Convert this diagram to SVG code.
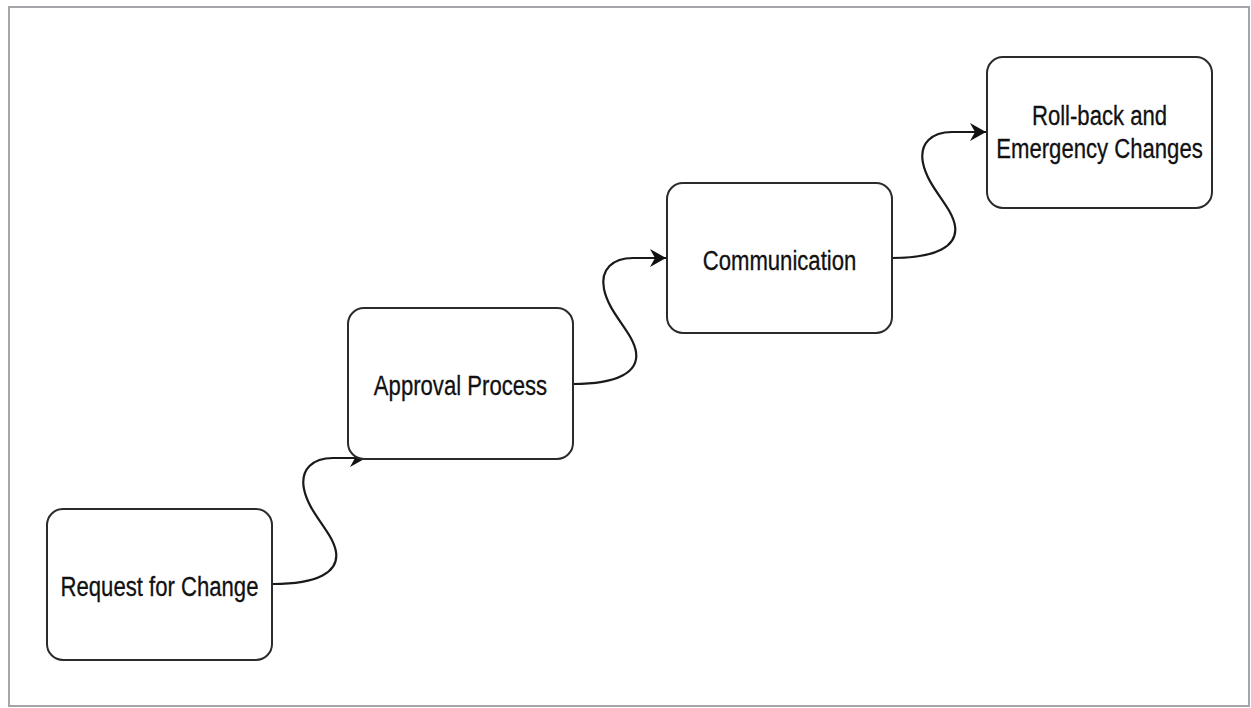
<svg xmlns="http://www.w3.org/2000/svg" width="1251" height="708" viewBox="0 0 1251 708">
  <style>
    .frame { fill: #ffffff; stroke: #a3a5aa; stroke-width: 2; }
    .box { fill: #ffffff; stroke: #2b2b2b; stroke-width: 2; }
    .lbl { font-family: "Liberation Sans", Arial, Helvetica, sans-serif; font-size: 28px; fill: #111111; stroke: #111111; stroke-width: 0.3; text-anchor: middle; }
    .edge { fill: none; stroke: #1a1a1a; stroke-width: 2.2; }
  </style>
  <defs>
    <marker id="arrow" markerUnits="userSpaceOnUse" markerWidth="20" markerHeight="20" refX="17" refY="10" orient="auto">
      <path d="M1,1 L17,10 L1,19 L6,10 z" fill="#111111"/>
    </marker>
  </defs>
  <rect width="1251" height="708" fill="#ffffff"/>
  <rect class="frame" x="9" y="7" width="1240" height="699"/>

  <g id="connectors">
    <path class="edge" marker-end="url(#arrow)" d="M273,584 C318,584 339,572 336,552 C333,532 309,514 304,489 C300,469 313,458 333,458 L366,458"/>
    <path class="edge" marker-end="url(#arrow)" d="M573,384 C618,384 639,372 636,352 C633,332 609,314 604,289 C600,269 613,258 633,258 L666,258"/>
    <path class="edge" marker-end="url(#arrow)" d="M892,258 C937,258 958,246 955,226 C952,206 928,188 923,163 C919,143 932,132 952,132 L986,132"/>
  </g>

  <g id="node-request">
    <rect class="box" x="47" y="509" width="225" height="151" rx="16" ry="16"/>
    <text class="lbl" transform="translate(159.5,596) scale(0.79,1)" x="0" y="0">Request for Change</text>
  </g>
  <g id="node-approval">
    <rect class="box" x="348" y="308" width="225" height="151" rx="16" ry="16"/>
    <text class="lbl" transform="translate(460.5,395) scale(0.79,1)" x="0" y="0">Approval Process</text>
  </g>
  <g id="node-communication">
    <rect class="box" x="667" y="183" width="225" height="150" rx="16" ry="16"/>
    <text class="lbl" transform="translate(779.5,270) scale(0.79,1)" x="0" y="0">Communication</text>
  </g>
  <g id="node-rollback">
    <rect class="box" x="987" y="57" width="225" height="151" rx="16" ry="16"/>
    <text class="lbl" transform="translate(1099.5,125) scale(0.79,1)" x="0" y="0">Roll-back and</text>
    <text class="lbl" transform="translate(1099.5,158) scale(0.79,1)" x="0" y="0">Emergency Changes</text>
  </g>
</svg>
